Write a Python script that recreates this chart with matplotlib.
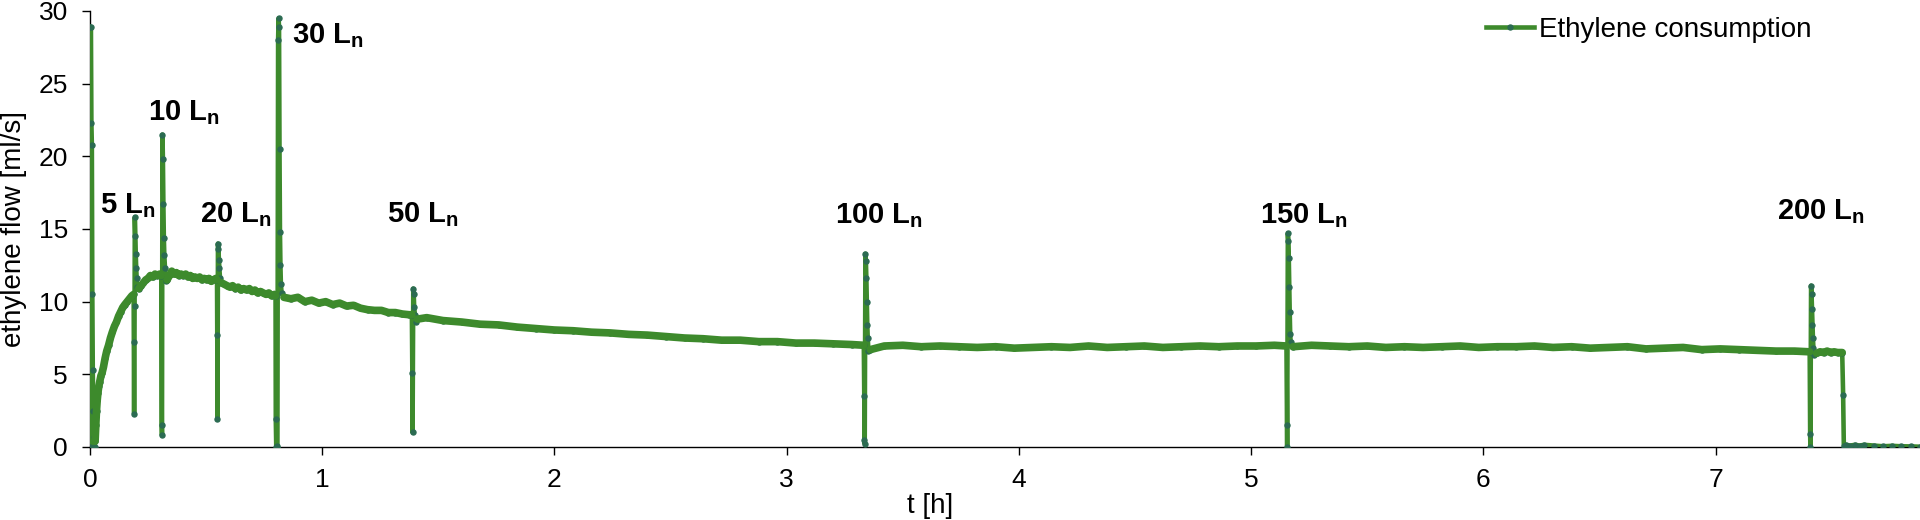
import matplotlib.pyplot as plt

plt.rcParams['font.family'] = ['Liberation Sans', 'DejaVu Sans']
plt.rcParams['mathtext.fontset'] = 'custom'
plt.rcParams['mathtext.rm'] = 'Liberation Sans'
plt.rcParams['mathtext.bf'] = 'Liberation Sans:bold'

# dosing spikes (t in h, flow in ml/s), first one is the initial filling
spike_t = [
	[0.000, 0.002, 0.004, 0.006, 0.008, 0.010, 0.012, 0.014, 0.017, 0.020],
	[0.190, 0.191, 0.192, 0.193, 0.195, 0.197, 0.199, 0.201, 0.204],
	[0.309, 0.310, 0.312, 0.314, 0.316, 0.318, 0.320, 0.323, 0.326],
	[0.548, 0.549, 0.551, 0.553, 0.555, 0.557, 0.560],
	[0.800, 0.802, 0.804, 0.807, 0.810, 0.812, 0.814, 0.816, 0.818, 0.820, 0.822, 0.825],
	[1.388, 1.389, 1.392, 1.394, 1.396, 1.399, 1.403],
	[3.334, 3.335, 3.336, 3.339, 3.341, 3.343, 3.345, 3.347, 3.349, 3.352],
	[5.154, 5.155, 5.158, 5.160, 5.162, 5.164, 5.166, 5.168, 5.170],
	[7.407, 7.408, 7.411, 7.413, 7.415, 7.417, 7.419, 7.421, 7.425],
]
spike_f = [
	[0.0, 28.9, 28.9, 22.3, 20.8, 10.5, 5.3, 2.5, 0.7, 0.0],
	[2.3, 7.2, 9.7, 15.8, 14.5, 13.3, 12.3, 11.6, 11.0],
	[1.5, 0.8, 21.5, 19.8, 16.7, 14.4, 13.2, 12.3, 11.4],
	[7.7, 1.9, 14.0, 13.6, 12.9, 12.3, 11.6],
	[1.9, 0.0, 0.1, 0.0, 28.0, 29.5, 28.9, 20.5, 14.8, 12.5, 11.2, 10.6],
	[5.1, 1.0, 10.9, 10.5, 9.6, 9.1, 8.6],
	[3.5, 0.5, 0.2, 13.3, 12.8, 11.6, 10.0, 8.4, 7.5, 6.6],
	[1.5, 0.0, 14.7, 14.2, 13.0, 11.0, 9.3, 7.8, 7.2],
	[0.9, 0.0, 11.1, 10.5, 9.5, 8.4, 7.5, 6.8, 6.35],
]

# steady consumption after each spike
base_t = [
	[0.022, 0.025, 0.028, 0.031, 0.034, 0.038, 0.042, 0.047, 0.052, 0.058, 0.065, 0.072,
	 0.080, 0.088, 0.096, 0.105, 0.114, 0.123, 0.132, 0.141, 0.150, 0.160, 0.170, 0.180, 0.188],
	[0.210, 0.220, 0.230, 0.240, 0.250, 0.260, 0.270, 0.280, 0.290, 0.300, 0.307],
	[0.332, 0.342, 0.352, 0.362, 0.372, 0.382, 0.392, 0.402, 0.412, 0.422, 0.432, 0.442,
	 0.452, 0.462, 0.472, 0.482, 0.492, 0.502, 0.512, 0.522, 0.532, 0.542, 0.547],
	[0.566, 0.578, 0.590, 0.602, 0.614, 0.626, 0.638, 0.650, 0.662, 0.674, 0.686, 0.698,
	 0.710, 0.722, 0.734, 0.746, 0.758, 0.770, 0.782, 0.794, 0.799],
	[0.835, 0.865, 0.895, 0.925, 0.955, 0.985, 1.015, 1.045, 1.075, 1.105, 1.135, 1.165,
	 1.195, 1.225, 1.255, 1.285, 1.315, 1.345, 1.375, 1.386],
	[1.41, 1.45, 1.52, 1.60, 1.68, 1.76, 1.84, 1.92, 2.00, 2.08, 2.16, 2.24, 2.32, 2.40,
	 2.48, 2.56, 2.64, 2.72, 2.80, 2.88, 2.96, 3.04, 3.12, 3.20, 3.28, 3.332],
	[3.36, 3.42, 3.50, 3.58, 3.66, 3.74, 3.82, 3.90, 3.98, 4.06, 4.14, 4.22, 4.30, 4.38,
	 4.46, 4.54, 4.62, 4.70, 4.78, 4.86, 4.94, 5.02, 5.10, 5.152],
	[5.18, 5.26, 5.34, 5.42, 5.50, 5.58, 5.66, 5.74, 5.82, 5.90, 5.98, 6.06, 6.14, 6.22,
	 6.30, 6.38, 6.46, 6.54, 6.62, 6.70, 6.78, 6.86, 6.94, 7.02, 7.10, 7.18, 7.26, 7.34, 7.405],
	[7.435, 7.450, 7.465, 7.480, 7.495, 7.510, 7.525, 7.545],
]
base_f = [
	[0.4, 1.5, 2.5, 3.2, 3.7, 4.2, 4.5, 4.9, 5.1, 5.5, 6.1, 6.6,
	 7.0, 7.5, 7.9, 8.3, 8.6, 9.0, 9.3, 9.6, 9.8, 10.0, 10.2, 10.4, 10.5],
	[10.9, 11.1, 11.3, 11.5, 11.6, 11.8, 11.7, 11.9, 11.8, 11.9, 11.8],
	[11.5, 11.8, 12.1, 11.9, 12.0, 11.8, 11.9, 11.8, 11.9, 11.7, 11.8, 11.6,
	 11.7, 11.6, 11.7, 11.5, 11.6, 11.5, 11.6, 11.4, 11.5, 11.6, 11.5],
	[11.3, 11.2, 11.1, 11.0, 11.1, 10.9, 11.0, 10.8, 10.9, 10.8, 10.9, 10.7,
	 10.8, 10.6, 10.7, 10.6, 10.5, 10.6, 10.4, 10.5, 10.4],
	[10.3, 10.2, 10.3, 10.0, 10.1, 9.9, 10.0, 9.8, 9.9, 9.7, 9.75, 9.55,
	 9.45, 9.4, 9.4, 9.25, 9.25, 9.15, 9.1, 9.1],
	[8.8, 8.9, 8.7, 8.6, 8.45, 8.4, 8.25, 8.15, 8.05, 8.0, 7.9, 7.85, 7.75, 7.7,
	 7.6, 7.5, 7.45, 7.35, 7.35, 7.25, 7.25, 7.15, 7.15, 7.1, 7.05, 7.0],
	[6.7, 6.95, 7.0, 6.9, 6.95, 6.9, 6.85, 6.9, 6.8, 6.85, 6.9, 6.85, 6.95, 6.85,
	 6.9, 6.95, 6.85, 6.9, 6.95, 6.9, 6.95, 6.95, 7.0, 6.95],
	[6.9, 7.0, 6.95, 6.9, 6.95, 6.85, 6.9, 6.85, 6.9, 6.95, 6.85, 6.9, 6.9, 6.95,
	 6.85, 6.9, 6.8, 6.85, 6.9, 6.75, 6.8, 6.85, 6.7, 6.75, 6.7, 6.65, 6.6, 6.6, 6.55],
	[6.45, 6.55, 6.5, 6.6, 6.5, 6.55, 6.5, 6.5],
]

# shut-off at the end of the run
tail_t = [7.549, 7.552, 7.56, 7.58, 7.60, 7.62, 7.64, 7.68, 7.72, 7.76, 7.80, 7.84, 7.88]
tail_f = [3.6, 0.1, 0.15, 0.1, 0.15, 0.1, 0.15, 0.1, 0.05, 0.08, 0.05, 0.04, 0.02]

# dosed volume labels (L_n) and where they sit
dose_vol = ['5', '10', '20', '30', '50', '100', '150', '200']
label_x = [0.043, 0.250, 0.474, 0.870, 1.279, 3.207, 5.040, 7.266]
label_y = [16.1, 22.5, 15.45, 27.8, 15.45, 15.4, 15.4, 15.65]

GREEN = '#3d8a2c'
DOT = '#2b6b52'

t_all, f_all = [], []
for st, sf, bt, bf in zip(spike_t, spike_f, base_t, base_f):
	t_all += st + bt
	f_all += sf + bf
t_all += tail_t
f_all += tail_f

fig = plt.figure(figsize=(19.2, 5.2), dpi=100)
ax = fig.add_axes([90 / 1920, 73 / 520, 1830 / 1920, 436 / 520])

ax.plot(t_all, f_all, '-', color=GREEN, lw=3.3, marker='o', markersize=3.6,
	markerfacecolor=DOT, markeredgecolor=DOT, label='Ethylene consumption', zorder=3)

# measurement noise makes the plateaus look thicker than the spikes
for bt, bf in zip(base_t, base_f):
	ax.plot(bt, bf, '-', color=GREEN, lw=5.5, solid_capstyle='round', zorder=4)

for v, x, y in zip(dose_vol, label_x, label_y):
	ax.text(x, y, v + r' L$_\mathbf{n}$', fontsize=21, fontweight='bold',
		ha='left', va='baseline')

ax.set_xlim(0, 7.88)
ax.set_ylim(0, 30)
ax.set_xticks(range(0, 8))
ax.set_yticks(range(0, 31, 5))
ax.tick_params(labelsize=19, length=6, width=1, direction='out')
ax.tick_params(axis='x', pad=9)
ax.tick_params(axis='y', pad=10)
for s in ['top', 'right']:
	ax.spines[s].set_visible(False)
for s in ['left', 'bottom']:
	ax.spines[s].set_linewidth(1)

ax.set_xlabel('t [h]', fontsize=20)
ax.xaxis.set_label_coords(0.459, -0.105)
ax.set_ylabel('ethylene flow [ml/s]', fontsize=20, labelpad=8)

ax.legend(loc='center left', bbox_to_anchor=(0.763, 0.956), frameon=False,
	fontsize=20, handlelength=1.7, handletextpad=0.2, borderpad=0, borderaxespad=0)

fig.savefig('out.png', dpi=100)
